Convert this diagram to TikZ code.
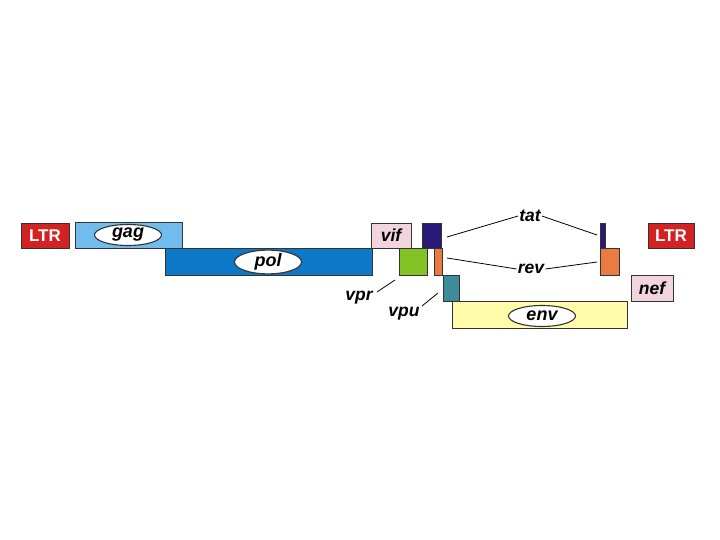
\documentclass[tikz,border=0pt]{standalone}
\usepackage{fontspec}
\setmainfont{Liberation Sans}
\usetikzlibrary{shapes.geometric}
\definecolor{ltrred}{HTML}{D42222}
\definecolor{gagblue}{HTML}{70BCEC}
\definecolor{polblue}{HTML}{0D78C8}
\definecolor{vifpink}{HTML}{F2D4DE}
\definecolor{tatnavy}{HTML}{2A1A78}
\definecolor{vprgreen}{HTML}{82C224}
\definecolor{revorange}{HTML}{EA7C42}
\definecolor{vputeal}{HTML}{3C8C9C}
\definecolor{envyellow}{HTML}{FFFBA8}
\definecolor{edge}{HTML}{333333}
\begin{document}
\begin{tikzpicture}[x=1pt,y=-1pt,
  gene/.style={draw=edge,line width=0.8pt},
  lab/.style={font=\fontsize{17.5}{19}\selectfont\bfseries\itshape,inner sep=1pt},
  ltrlab/.style={font=\fontsize{17}{19}\selectfont\bfseries,text=white},
  oval/.style={ellipse,draw=edge,fill=white,line width=1.1pt,minimum width=67pt,minimum height=21pt,inner sep=0pt,font=\fontsize{18}{19}\selectfont\bfseries\itshape},
  conn/.style={draw=black,line width=0.8pt}]
\useasboundingbox (0,0) rectangle (720,540);
% boxes
\draw[gene,fill=ltrred] (21,223) rectangle (69,248);
\node[ltrlab] (ltrl) at (45,235.5) {LTR};
\draw[gene,fill=gagblue] (75,222) rectangle (182,248);
\node[oval] (gag) at (128,235) {gag};
\draw[gene,fill=polblue] (165,248) rectangle (372,275);
\node[oval] (pol) at (268,262) {pol};
\draw[gene,fill=vifpink] (371,223) rectangle (411,248);
\node[lab] (vif) at (391,235.5) {vif};
\draw[gene,fill=tatnavy] (422,223) rectangle (441,248);
\coordinate (tatA) at (447,237);
\draw[gene,fill=vprgreen] (399,248) rectangle (427,275);
\draw[gene,fill=revorange] (434,248) rectangle (442,275);
\coordinate (revA) at (447,258);
\draw[gene,fill=vputeal] (443,275) rectangle (459,301);
\draw[gene,fill=envyellow] (452,301) rectangle (627,328);
\node[oval] (env) at (542,316) {env};
\draw[gene,fill=tatnavy] (600,223) rectangle (605,248);
\coordinate (tatB) at (597,235);
\draw[gene,fill=revorange] (600,248) rectangle (619,275);
\coordinate (revB) at (597,262);
\draw[gene,fill=ltrred] (648,223) rectangle (694,248);
\node[ltrlab] (ltrr) at (671,235.5) {LTR};
\draw[gene,fill=vifpink] (631,275) rectangle (673,301);
\node[lab] (nef) at (652,288) {nef};
% labels and leaders
\node[lab] (tat) at (530,216) {tat};
\draw[conn] (tatA) -- (tat.west);
\draw[conn] (tat.east) -- (tatB);
\node[lab] (rev) at (531,269) {rev};
\draw[conn] (revA) -- (rev.west);
\draw[conn] (rev.east) -- (revB);
\node[lab] (vpr) at (359,298) {vpr};
\coordinate (vprA) at (395,280);
\coordinate (vprB) at (377,292);
\draw[conn] (vprB) -- (vprA);
\node[lab] (vpu) at (404,314) {vpu};
\coordinate (vpuA) at (438,293);
\coordinate (vpuB) at (422,306);
\draw[conn] (vpuB) -- (vpuA);
\end{tikzpicture}
\end{document}
